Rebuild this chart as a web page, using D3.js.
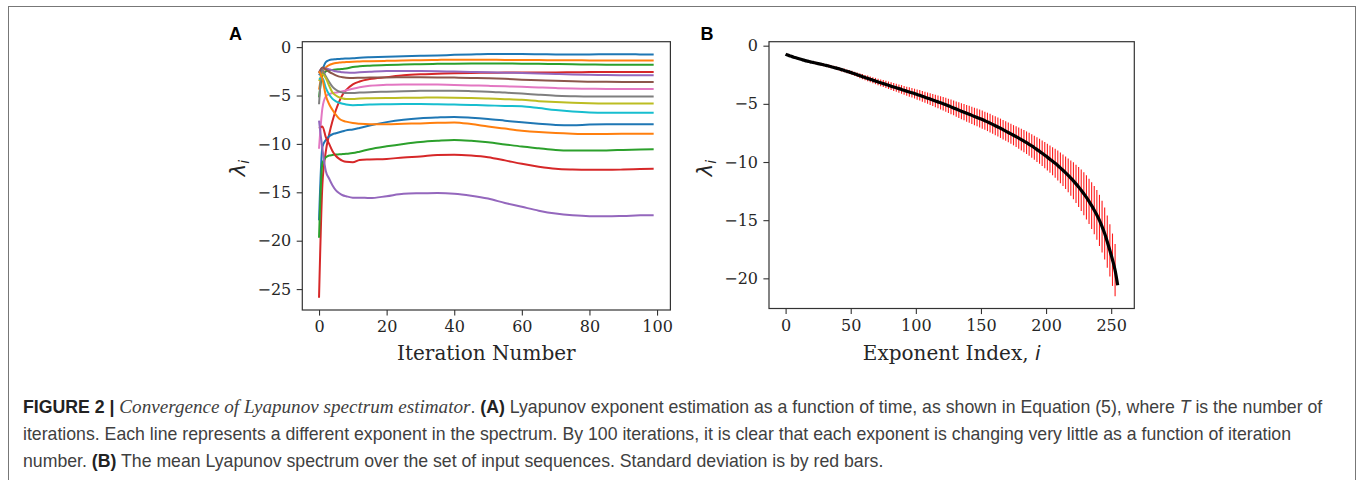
<!DOCTYPE html>
<html>
<head>
<meta charset="utf-8">
<script src="https://cdn.jsdelivr.net/npm/d3@7"></script>
<style>
  html, body { margin: 0; padding: 0; background: #fff; }
  svg { display: block; }
</style>
</head>
<body>
<svg id="fig" width="1357" height="480"></svg>
<script>
// ---------------- DATA ----------------
// Panel A: iteration sample points (x) and one array per exponent estimate
const iterX = [0,1,2,3,4,5,6,7,8,10,12,15,20,25,30,35,40,45,50,55,60,65,70,75,80,85,90,95,99];
const e1  = [-2.9,-2.3,-1.55,-1.35,-1.28,-1.25,-1.22,-1.2,-1.18,-1.15,-1.1,-1.05,-0.99,-0.95,-0.9,-0.86,-0.8,-0.75,-0.7,-0.7,-0.72,-0.74,-0.75,-0.76,-0.75,-0.74,-0.74,-0.75,-0.75];
const e2  = [-4.4,-2.6,-2.1,-1.85,-1.72,-1.63,-1.6,-1.57,-1.55,-1.5,-1.48,-1.45,-1.42,-1.38,-1.35,-1.32,-1.3,-1.3,-1.31,-1.32,-1.33,-1.34,-1.35,-1.36,-1.37,-1.37,-1.37,-1.37,-1.37];
const e3  = [-5.2,-2.9,-2.5,-2.4,-2.35,-2.3,-2.28,-2.25,-2.22,-2.05,-1.98,-1.92,-1.85,-1.8,-1.76,-1.73,-1.71,-1.7,-1.7,-1.7,-1.71,-1.72,-1.75,-1.78,-1.8,-1.82,-1.82,-1.82,-1.82];
const e4  = [-25.9,-14.2,-10.8,-9.0,-7.6,-6.5,-5.6,-4.9,-4.45,-3.85,-3.55,-3.3,-3.1,-2.9,-2.8,-2.75,-2.7,-2.67,-2.65,-2.63,-2.62,-2.62,-2.62,-2.6,-2.58,-2.57,-2.57,-2.57,-2.57];
const e5  = [-2.6,-2.15,-2.2,-2.3,-2.4,-2.5,-2.55,-2.6,-2.62,-2.64,-2.6,-2.55,-2.48,-2.47,-2.48,-2.5,-2.53,-2.56,-2.6,-2.64,-2.68,-2.72,-2.77,-2.82,-2.86,-2.88,-2.9,-2.91,-2.91];
const e6  = [-2.7,-2.1,-2.3,-2.55,-2.75,-2.92,-3.05,-3.12,-3.16,-3.18,-3.17,-3.15,-3.13,-3.12,-3.12,-3.13,-3.15,-3.18,-3.22,-3.28,-3.36,-3.42,-3.48,-3.53,-3.57,-3.59,-3.6,-3.6,-3.6];
const e7  = [-10.5,-6.3,-5.1,-4.85,-4.75,-4.7,-4.62,-4.55,-4.48,-4.3,-4.15,-4.0,-3.9,-3.85,-3.85,-3.87,-3.92,-3.96,-4.0,-4.05,-4.1,-4.17,-4.23,-4.28,-4.3,-4.32,-4.32,-4.32,-4.32];
const e8  = [-5.9,-2.4,-3.0,-3.6,-4.1,-4.4,-4.6,-4.7,-4.75,-4.75,-4.7,-4.65,-4.6,-4.55,-4.52,-4.5,-4.52,-4.55,-4.6,-4.7,-4.8,-4.92,-5.02,-5.07,-5.1,-5.1,-5.1,-5.1,-5.1];
const e9  = [-3.5,-2.8,-3.2,-4.0,-4.7,-5.0,-5.2,-5.3,-5.35,-5.35,-5.3,-5.28,-5.26,-5.24,-5.22,-5.2,-5.22,-5.26,-5.32,-5.38,-5.45,-5.58,-5.68,-5.75,-5.8,-5.82,-5.82,-5.82,-5.82];
const e10 = [-3.3,-3.2,-4.2,-4.9,-5.35,-5.6,-5.75,-5.85,-5.92,-6.0,-5.98,-5.93,-5.9,-5.88,-5.88,-5.9,-5.93,-5.97,-6.02,-6.08,-6.12,-6.3,-6.5,-6.65,-6.75,-6.78,-6.78,-6.78,-6.78];
const e11 = [-17.9,-10.3,-9.6,-9.2,-9.0,-8.9,-8.8,-8.7,-8.6,-8.5,-8.35,-8.1,-7.75,-7.5,-7.35,-7.27,-7.22,-7.3,-7.43,-7.6,-7.77,-7.92,-8.04,-8.07,-8.0,-7.98,-7.98,-7.98,-7.98];
const e12 = [-2.5,-3.3,-5.0,-5.9,-6.5,-7.0,-7.4,-7.6,-7.7,-7.85,-7.92,-7.97,-7.97,-7.92,-7.88,-7.82,-7.78,-7.95,-8.2,-8.42,-8.63,-8.78,-8.88,-8.94,-8.97,-8.97,-8.96,-8.95,-8.94];
const e13 = [-19.7,-12.0,-11.4,-11.2,-11.15,-11.1,-11.08,-11.05,-11.02,-10.95,-10.8,-10.55,-10.25,-10.0,-9.8,-9.68,-9.6,-9.68,-9.83,-10.05,-10.27,-10.45,-10.62,-10.68,-10.69,-10.67,-10.62,-10.58,-10.55];
const e14 = [-8.4,-8.2,-9.3,-10.0,-10.75,-11.25,-11.55,-11.75,-11.85,-11.9,-11.65,-11.6,-11.55,-11.4,-11.3,-11.15,-11.12,-11.2,-11.37,-11.7,-12.06,-12.35,-12.57,-12.65,-12.68,-12.68,-12.65,-12.6,-12.57];
const e15 = [-7.6,-10.5,-12.8,-13.6,-14.3,-14.8,-15.1,-15.3,-15.4,-15.55,-15.55,-15.6,-15.4,-15.15,-15.1,-15.07,-15.14,-15.35,-15.65,-16.1,-16.5,-16.9,-17.2,-17.38,-17.47,-17.48,-17.44,-17.38,-17.36];
const expSeries = [e1,e2,e3,e4,e5,e6,e7,e8,e9,e10,e11,e12,e13,e14,e15];
const xTicksA = [0,20,40,60,80,100];
const yTicksA = [0,-5,-10,-15,-20,-25];

// Panel B: exponent index, mean spectrum, standard deviation
const specIndex = [0].concat(d3.range(1, 256, 2));
const specMean = [-0.72,
 -0.78,-0.86,-0.94,-1.01,-1.08, -1.15,-1.22,-1.28,-1.33,-1.39,
 -1.44,-1.49,-1.54,-1.59,-1.64, -1.69,-1.75,-1.81,-1.87,-1.93,
 -1.99,-2.06,-2.13,-2.20,-2.27, -2.34,-2.42,-2.50,-2.58,-2.66,
 -2.74,-2.81,-2.89,-2.97,-3.04, -3.12,-3.19,-3.26,-3.33,-3.40,
 -3.48,-3.55,-3.62,-3.69,-3.76, -3.84,-3.91,-3.98,-4.05,-4.12,
 -4.20,-4.27,-4.35,-4.43,-4.51, -4.59,-4.67,-4.75,-4.83,-4.91,
 -5.00,-5.08,-5.17,-5.26,-5.35, -5.45,-5.54,-5.63,-5.72,-5.81,
 -5.90,-5.99,-6.08,-6.17,-6.26, -6.35,-6.45,-6.55,-6.66,-6.77,
 -6.88,-6.99,-7.10,-7.22,-7.34, -7.46,-7.58,-7.70,-7.82,-7.94,
 -8.07,-8.20,-8.34,-8.48,-8.62, -8.77,-8.93,-9.08,-9.24,-9.41,
 -9.58,-9.76,-9.93,-10.11,-10.30, -10.50,-10.71,-10.93,-11.15,-11.38,
 -11.62,-11.88,-12.15,-12.43,-12.73, -13.04,-13.38,-13.75,-14.14,-14.55,
 -15.02,-15.55,-16.15,-16.85,-17.60, -18.40,-19.30,-20.60];
const specStd = [null,
 0.08,0.08,0.08,0.08,0.09, 0.09,0.09,0.09,0.10,0.10,
 0.10,0.11,0.11,0.11,0.12, 0.12,0.13,0.13,0.14,0.14,
 0.15,0.15,0.16,0.16,0.17, 0.18,0.19,0.20,0.21,0.22,
 0.23,0.24,0.25,0.26,0.27, 0.28,0.29,0.30,0.31,0.32,
 0.33,0.34,0.35,0.36,0.37, 0.38,0.39,0.40,0.41,0.42,
 0.44,0.45,0.46,0.48,0.49, 0.51,0.52,0.54,0.55,0.57,
 0.58,0.60,0.61,0.63,0.64, 0.66,0.67,0.69,0.70,0.72,
 0.73,0.74,0.75,0.76,0.77, 0.78,0.78,0.79,0.80,0.80,
 0.81,0.82,0.83,0.84,0.84, 0.85,0.86,0.87,0.89,0.91,
 0.93,0.95,0.97,0.99,1.01, 1.03,1.06,1.08,1.10,1.13,
 1.15,1.17,1.20,1.24,1.28, 1.32,1.36,1.40,1.46,1.52,
 1.59,1.65,1.72,1.78,1.84, 1.90,1.95,2.00,2.07,2.14,
 2.20,2.22,2.24,2.25,2.25, 2.25,2.25,null];
const xTicksB = [0,50,100,150,200,250];
const yTicksB = [0,-5,-10,-15,-20];

const tab10 = ["#1f77b4","#ff7f0e","#2ca02c","#d62728","#9467bd","#8c564b","#e377c2","#7f7f7f","#bcbd22","#17becf"];

// ---------------- DRAWING ----------------
const svg = d3.select("#fig");
const INK = "#262626";
const TICKFONT = "DejaVu Serif";

// figure border
svg.append("rect").attr("x", 8.5).attr("y", 6.5).attr("width", 1347).attr("height", 490)
  .attr("fill", "none").attr("stroke", "#777").attr("stroke-width", 1);

function pad(ext) { const r = ext[1] - ext[0]; return [ext[0] - 0.05 * r, ext[1] + 0.05 * r]; }

function styleAxis(g) {
  g.attr("font-family", TICKFONT).attr("font-size", 16);
  g.select(".domain").remove();
  g.selectAll(".tick line").attr("stroke", "#333").attr("stroke-width", 1.1);
  g.selectAll(".tick text").attr("fill", INK).attr("font-family", TICKFONT)
    .style("font-family", TICKFONT).style("font-size", "16px");
}

function frame(x0, x1, y0, y1) {
  svg.append("rect").attr("x", x0).attr("y", y1).attr("width", x1 - x0).attr("height", y0 - y1)
    .attr("fill", "none").attr("stroke", "#333").attr("stroke-width", 1.2);
}

function yLabel(x, y) {
  const t = svg.append("text").attr("transform", `translate(${x},${y}) rotate(-90)`)
    .attr("text-anchor", "middle").attr("fill", INK)
    .style("font-family", "'DejaVu Sans', sans-serif").style("font-style", "italic").style("font-size", "21px");
  t.append("tspan").text("λ");
  t.append("tspan").attr("dy", 4).style("font-size", "14px").text("i");
}

// ----- Panel A -----
const A = { l: 302.3, r: 670.4, t: 41.7, b: 310 };
const xA = d3.scaleLinear().domain(pad([0, 99])).range([A.l, A.r]);
const allA = expSeries.flat();
const yA = d3.scaleLinear().domain(pad(d3.extent(allA))).range([A.b, A.t]);

svg.append("g").attr("transform", `translate(0,${A.b})`)
  .call(d3.axisBottom(xA).tickValues(xTicksA).tickSize(5.6).tickPadding(5.4).tickFormat(d3.format("d")))
  .call(styleAxis);
svg.append("g").attr("transform", `translate(${A.l},0)`)
  .call(d3.axisLeft(yA).tickValues(yTicksA).tickSize(5.6).tickPadding(5.4).tickFormat(d3.format("d")))
  .call(styleAxis);

const lineA = d3.line().x((d, i) => xA(iterX[i])).y(d => yA(d)).curve(d3.curveMonotoneX);
svg.append("g").selectAll("path").data(expSeries).join("path")
  .attr("d", lineA).attr("fill", "none")
  .attr("stroke", (d, i) => tab10[i % 10]).attr("stroke-width", 2)
  .attr("stroke-linejoin", "round").attr("stroke-linecap", "butt");
frame(A.l, A.r, A.b, A.t);

svg.append("text").attr("x", (A.l + A.r) / 2).attr("y", 360).attr("text-anchor", "middle")
  .attr("fill", INK).style("font-family", TICKFONT).style("font-size", "20px").text("Iteration Number");
yLabel(245, 168);
svg.append("text").attr("x", 229).attr("y", 39.5).attr("fill", "#000")
  .style("font-family", "'Liberation Sans', Arial, sans-serif").style("font-weight", "bold").style("font-size", "18px").text("A");

// ----- Panel B -----
const B = { l: 769, r: 1134.3, t: 41.7, b: 308.5 };
const xB = d3.scaleLinear().domain(pad([0, 255])).range([B.l, B.r]);
const lows = specMean.map((m, i) => specStd[i] == null ? m : m - specStd[i]);
const highs = specMean.map((m, i) => specStd[i] == null ? m : m + specStd[i]);
const yB = d3.scaleLinear().domain(pad([d3.min(lows), d3.max(highs)])).range([B.b, B.t]);

svg.append("g").attr("transform", `translate(0,${B.b})`)
  .call(d3.axisBottom(xB).tickValues(xTicksB).tickSize(5.6).tickPadding(5.4).tickFormat(d3.format("d")))
  .call(styleAxis);
svg.append("g").attr("transform", `translate(${B.l},0)`)
  .call(d3.axisLeft(yB).tickValues(yTicksB).tickSize(5.6).tickPadding(5.4).tickFormat(d3.format("d")))
  .call(styleAxis);

const barIdx = d3.range(specIndex.length).filter(i => specStd[i] != null);
svg.append("g").selectAll("line").data(barIdx).join("line")
  .attr("x1", i => xB(specIndex[i])).attr("x2", i => xB(specIndex[i]))
  .attr("y1", i => yB(specMean[i] - specStd[i])).attr("y2", i => yB(specMean[i] + specStd[i]))
  .attr("stroke", "#ff1a1a").attr("stroke-width", 1.1);

const lineB = d3.line().x((d, i) => xB(specIndex[i])).y(d => yB(d)).curve(d3.curveMonotoneX);
svg.append("path").datum(specMean).attr("d", lineB).attr("fill", "none")
  .attr("stroke", "#000").attr("stroke-width", 3.2).attr("stroke-linejoin", "round");
frame(B.l, B.r, B.b, B.t);

const xlB = svg.append("text").attr("x", (B.l + B.r) / 2).attr("y", 360).attr("text-anchor", "middle")
  .attr("fill", INK).style("font-family", TICKFONT).style("font-size", "20px");
xlB.append("tspan").text("Exponent Index, ");
xlB.append("tspan").style("font-family", "'DejaVu Sans', sans-serif").style("font-style", "italic").text("i");
yLabel(712, 168);
svg.append("text").attr("x", 700.5).attr("y", 39.5).attr("fill", "#000")
  .style("font-family", "'Liberation Sans', Arial, sans-serif").style("font-weight", "bold").style("font-size", "18px").text("B");

// ----- Caption -----
const capLines = [
  [["FIGURE 2 | ", "b"], ["Convergence of Lyapunov spectrum estimator", "si"], [". ", ""], ["(A)", "b"],
   [" Lyapunov exponent estimation as a function of time, as shown in Equation (5), where ", ""], ["T", "i"], [" is the number of", ""]],
  [["iterations. Each line represents a different exponent in the spectrum. By 100 iterations, it is clear that each exponent is changing very little as a function of iteration", ""]],
  [["number. ", ""], ["(B)", "b"], [" The mean Lyapunov spectrum over the set of input sequences. Standard deviation is by red bars.", ""]]
];
const capY = [413, 440, 466.5];
const capNodes = capLines.map((segs, k) => {
  const t = svg.append("text").attr("x", 23).attr("y", capY[k]).attr("fill", "#404040")
    .style("font-family", "'Liberation Sans', Arial, sans-serif").style("font-size", "15px");
  segs.forEach(([txt, st]) => {
    const s = t.append("tspan").text(txt);
    if (st === "b") s.style("font-weight", "bold").attr("fill", "#222");
    if (st === "i") s.style("font-style", "italic");
    if (st === "si") s.style("font-family", "'Liberation Serif', serif").style("font-style", "italic").style("font-size", "1.08em");
  });
  return t;
});
const w1 = capNodes[0].node().getComputedTextLength();
const fs = 15 * 1300 / w1;
capNodes.forEach(t => t.style("font-size", fs + "px"));
</script>
</body>
</html>
